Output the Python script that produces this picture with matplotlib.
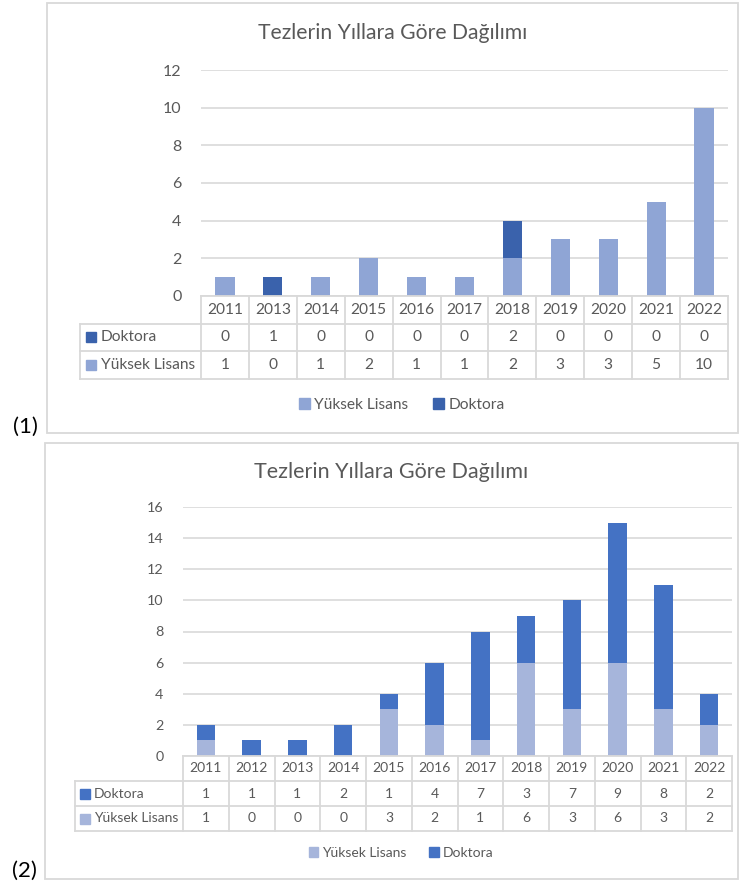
import numpy as np
import matplotlib.pyplot as plt
from matplotlib.patches import Rectangle, Patch

plt.rcParams['font.family'] = ['Lato', 'DejaVu Sans']

# chart (1)
years_1 = ['2011', '2013', '2014', '2015', '2016', '2017', '2018', '2019', '2020', '2021', '2022']
doktora_1 = [0, 1, 0, 0, 0, 0, 2, 0, 0, 0, 0]
yuksek_1 = [1, 0, 1, 2, 1, 1, 2, 3, 3, 5, 10]

# chart (2)
years_2 = ['2011', '2012', '2013', '2014', '2015', '2016', '2017', '2018', '2019', '2020', '2021', '2022']
doktora_2 = [1, 1, 1, 2, 1, 4, 7, 3, 7, 9, 8, 2]
yuksek_2 = [1, 0, 0, 0, 3, 2, 1, 6, 3, 6, 3, 2]

title = 'Tezlerin Yıllara Göre Dağılımı'
TXT = '#595959'
GRID = '#D9D9D9'

W, H = 740, 884
fig = plt.figure(figsize=(W / 100, H / 100), dpi=100)


def box(x0, y0, x1, y1):
    # pixel box (top-left origin) -> figure fraction
    return [x0 / W, 1 - y1 / H, (x1 - x0) / W, (y1 - y0) / H]


def draw_panel(years, yl, dk, c_yl, c_dk, ymax, frame, plot, lab_left, row_h,
               title_y, legend_x, legend_y, tag, tag_xy, sq_off, txt_off, fs, title_fs):
    fx0, fy0, fx1, fy1 = frame
    fig.add_artist(Rectangle((fx0 / W, 1 - fy1 / H), (fx1 - fx0) / W, (fy1 - fy0) / H,
                             transform=fig.transFigure, fill=False, ec=GRID, lw=1.3))
    fig.text((fx0 + fx1) / 2 / W, 1 - title_y / H, title, ha='center', va='center',
             fontsize=title_fs, color=TXT)
    fig.text(tag_xy[0] / W, 1 - tag_xy[1] / H, tag, ha='center', va='center',
             fontsize=16, color='black')

    px0, py0, px1, py1 = plot
    n = len(years)
    x = np.arange(n)
    ax = fig.add_axes(box(px0, py0, px1, py1))
    ax.bar(x, yl, 0.4, color=c_yl, zorder=3)
    ax.bar(x, dk, 0.4, bottom=yl, color=c_dk, zorder=3)
    ax.set_xlim(-0.5, n - 0.5)
    ax.set_ylim(0, ymax)
    ax.set_yticks(range(0, ymax + 1, 2))
    ax.set_xticks([])
    ax.grid(axis='y', color=GRID, lw=1.2, zorder=0)
    for s in ax.spines.values():
        s.set_visible(False)
    ax.tick_params(axis='y', length=0, pad=14, labelsize=fs + 0.3, labelcolor=TXT)

    # data table under the bars
    col_w = (px1 - px0) / n
    lab_w = (px0 - lab_left) / col_w
    tab = fig.add_axes(box(lab_left, py1, px1, py1 + 3 * row_h))
    tab.set_xlim(-0.5 - lab_w, n - 0.5)
    tab.set_ylim(3, 0)
    tab.axis('off')
    left = -0.5 - lab_w
    tab.plot([-0.5, n - 0.5], [0, 0], color=GRID, lw=1.3, clip_on=False)
    for r in (1, 2, 3):
        tab.plot([left, n - 0.5], [r, r], color=GRID, lw=1.3, clip_on=False)
    for i in range(n + 1):
        tab.plot([i - 0.5, i - 0.5], [0, 3], color=GRID, lw=1.3, clip_on=False)
    tab.plot([left, left], [1, 3], color=GRID, lw=1.3, clip_on=False)
    for i in range(n):
        tab.text(i, 0.5, years[i], ha='center', va='center', fontsize=fs, color=TXT)
        tab.text(i, 1.5, str(dk[i]), ha='center', va='center', fontsize=fs, color=TXT)
        tab.text(i, 2.5, str(yl[i]), ha='center', va='center', fontsize=fs, color=TXT)
    for r, name, c in ((1.5, 'Doktora', c_dk), (2.5, 'Yüksek Lisans', c_yl)):
        tab.plot(left + sq_off / col_w, r, marker='s', ms=7, color=c, clip_on=False)
        tab.text(left + txt_off / col_w, r, name, ha='left', va='center', fontsize=fs, color=TXT)

    handles = [Patch(color=c_yl, label='Yüksek Lisans'), Patch(color=c_dk, label='Doktora')]
    fig.legend(handles=handles, loc='center', bbox_to_anchor=(legend_x / W, 1 - legend_y / H),
               ncol=2, frameon=False, handlelength=0.7, handleheight=0.7,
               handletextpad=0.3, columnspacing=1.6, fontsize=fs, labelcolor=TXT)


draw_panel(years_1, yuksek_1, doktora_1, '#8FA5D5', '#3A62AC', 12,
           frame=(47, 3, 738, 433), plot=(201, 70, 728, 296), lab_left=80, row_h=27.5,
           title_y=33, legend_x=402, legend_y=405, tag='(1)', tag_xy=(25, 427),
           sq_off=11, txt_off=21, fs=11.2, title_fs=15.2)

draw_panel(years_2, yuksek_2, doktora_2, '#A6B5DB', '#4472C4', 16,
           frame=(45, 443, 738, 879), plot=(183, 507, 732, 756), lab_left=75, row_h=25,
           title_y=472, legend_x=401, legend_y=853, tag='(2)', tag_xy=(24, 871),
           sq_off=10, txt_off=19, fs=10.0, title_fs=15.5)

fig.savefig('out.png', dpi=100)
